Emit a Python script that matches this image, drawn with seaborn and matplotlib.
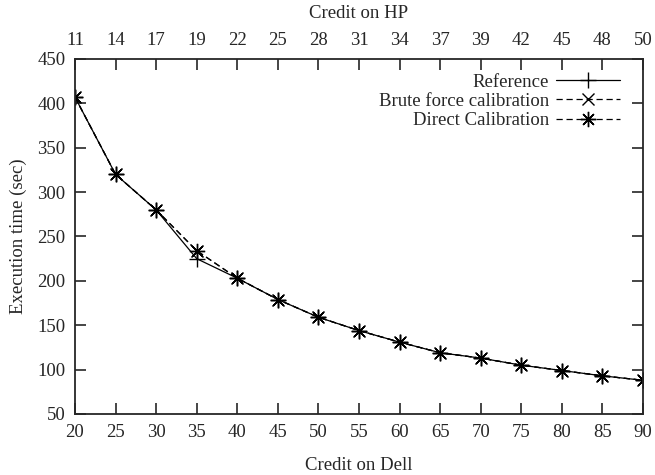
import matplotlib
matplotlib.use("Agg")
import matplotlib.pyplot as plt
import seaborn as sns
import pandas as pd

credit_dell = [20, 25, 30, 35, 40, 45, 50, 55, 60, 65, 70, 75, 80, 85, 90]
credit_hp = [11, 14, 17, 19, 22, 25, 28, 31, 34, 37, 39, 42, 45, 48, 50]
reference = [407, 320, 280, 225, 203, 179, 159, 144, 131, 119, 113, 105, 99, 93, 88]
brute_force = [407, 320, 280, 234, 203, 179, 159, 144, 131, 119, 113, 105, 99, 93, 88]
direct_cal = [407, 320, 280, 234, 203, 179, 159, 144, 131, 119, 113, 105, 99, 93, 88]
y_ticks = [50, 100, 150, 200, 250, 300, 350, 400, 450]

sns.set_style("ticks")
plt.rcParams['font.family'] = ['Liberation Serif', 'DejaVu Serif']
FS = 13.5

fig = plt.figure(figsize=(6.55, 4.75), dpi=100)
ax = fig.add_axes([75/655, 1 - 414/475, 568/655, 355/475])

df = pd.DataFrame({"dell": credit_dell, "ref": reference,
                   "brute": brute_force, "direct": direct_cal})

common = dict(color="black", markeredgecolor="black", markeredgewidth=1.0,
              ax=ax)
sns.lineplot(data=df, x="dell", y="ref", marker="+", markersize=11,
             linestyle="-", linewidth=0.9, label="Reference", **common)
sns.lineplot(data=df, x="dell", y="brute", marker="x", markersize=9,
             linestyle=(0, (5, 3)), linewidth=0.9,
             label="Brute force calibration", **common)
sns.lineplot(data=df, x="dell", y="direct", marker=(8, 2, 0), markersize=11,
             linestyle=(0, (5, 3)), linewidth=0.9,
             label="Direct Calibration", **common)

ax.set_xlim(20, 90)
ax.set_ylim(50, 450)
ax.set_xticks(credit_dell)
ax.set_yticks(y_ticks)
ax.set_xlabel("Credit on Dell", fontsize=FS, labelpad=12)
ax.set_ylabel("Execution time (sec)", fontsize=FS, labelpad=7)
ax.tick_params(direction="in", length=8, width=1.2, labelsize=FS,
               right=True, top=True, pad=7)
for s in ax.spines.values():
    s.set_linewidth(1.3)
    s.set_visible(True)

ax2 = ax.twiny()
ax2.set_xlim(ax.get_xlim())
ax2.set_xticks(credit_dell)
ax2.set_xticklabels([str(v) for v in credit_hp])
ax2.tick_params(direction="in", length=8, width=1.2, labelsize=FS, pad=7)
ax2.set_xlabel("Credit on HP", fontsize=FS, labelpad=10)
for s in ax2.spines.values():
    s.set_visible(False)

leg = ax.legend(loc="upper right", bbox_to_anchor=(0.983, 0.996), frameon=False,
                markerfirst=False, fontsize=FS, handlelength=3.4,
                handletextpad=0.4, labelspacing=0.12, borderaxespad=0.3)

fig.savefig("out.png", dpi=100)
